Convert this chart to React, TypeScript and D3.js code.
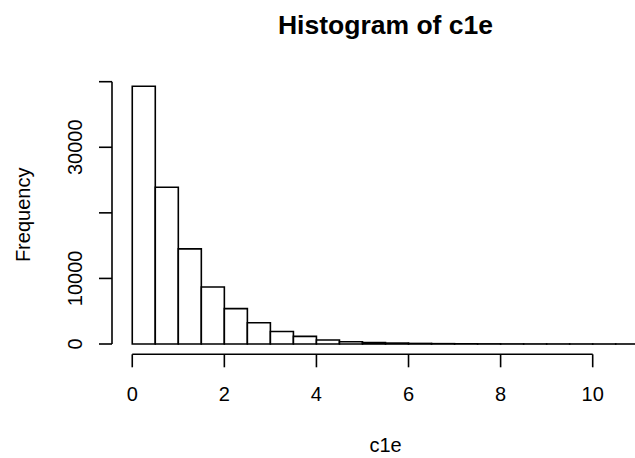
import React from "react";
import * as d3 from "d3";

const binStarts = [0, 0.5, 1, 1.5, 2, 2.5, 3, 3.5, 4, 4.5, 5, 5.5, 6, 6.5, 7, 7.5, 8, 8.5, 9, 9.5, 10, 10.5];
const binWidth = 0.5;
const counts = [39300, 23900, 14500, 8700, 5400, 3250, 1900, 1170, 620, 350, 220, 140, 85, 52, 33, 20, 12, 8, 5, 3, 1, 1];
const xTicks = [0, 2, 4, 6, 8, 10];
const yTicks = [0, 10000, 20000, 30000, 40000];
const yLabelled = [0, 10000, 30000];

const W = 635;
const H = 458;

export default function App() {
  const x = d3.scaleLinear().domain([-0.44, 11.44]).range([112, 659]);
  const y = d3.scaleLinear().domain([0, 40000]).range([344, 81.7]);
  const plotBottom = 354.3;
  const plotLeft = 112;
  const font = "'Liberation Sans', Arial, Helvetica, sans-serif";
  const sw = 1.6;
  const cx = (112 + 659) / 2;

  return (
    <svg
      width={W}
      height={H}
      style={{ position: "absolute", left: 0, top: 0, background: "#fff" }}
      fontFamily={font}
    >
      <rect x={0} y={0} width={W} height={H} fill="#fff" />
      {binStarts.map((b, i) => {
        const x0 = x(b);
        const x1 = x(b + binWidth);
        const y0 = y(0);
        const y1 = y(counts[i]);
        return (
          <path
            key={i}
            d={`M${x0},${y0}H${x1}V${y1}H${x0}Z`}
            fill="#fff"
            stroke="#000"
            strokeWidth={sw}
          />
        );
      })}
      {/* x axis */}
      <line x1={x(0)} x2={x(10)} y1={plotBottom} y2={plotBottom} stroke="#000" strokeWidth={sw} />
      {xTicks.map((t) => (
        <g key={t}>
          <line x1={x(t)} x2={x(t)} y1={plotBottom} y2={plotBottom + 13} stroke="#000" strokeWidth={sw} />
          <text x={x(t)} y={400.5} fontSize={20} textAnchor="middle" fill="#000">
            {t}
          </text>
        </g>
      ))}
      {/* y axis */}
      <line x1={plotLeft} x2={plotLeft} y1={y(0)} y2={y(40000)} stroke="#000" strokeWidth={sw} />
      {yTicks.map((t) => (
        <g key={t}>
          <line x1={plotLeft} x2={plotLeft - 13} y1={y(t)} y2={y(t)} stroke="#000" strokeWidth={sw} />
          {yLabelled.includes(t) && (
            <text
              transform={`translate(81.7,${y(t)}) rotate(-90)`}
              fontSize={20}
              textAnchor="middle"
              fill="#000"
            >
              {t}
            </text>
          )}
        </g>
      ))}
      <text x={cx} y={34} fontSize={26.5} fontWeight="bold" textAnchor="middle" fill="#000">
        Histogram of c1e
      </text>
      <text x={cx} y={451.5} fontSize={20} textAnchor="middle" fill="#000">
        c1e
      </text>
      <text
        transform={`translate(30,${(75.4 + 354.3) / 2}) rotate(-90)`}
        fontSize={20}
        textAnchor="middle"
        fill="#000"
      >
        Frequency
      </text>
    </svg>
  );
}
